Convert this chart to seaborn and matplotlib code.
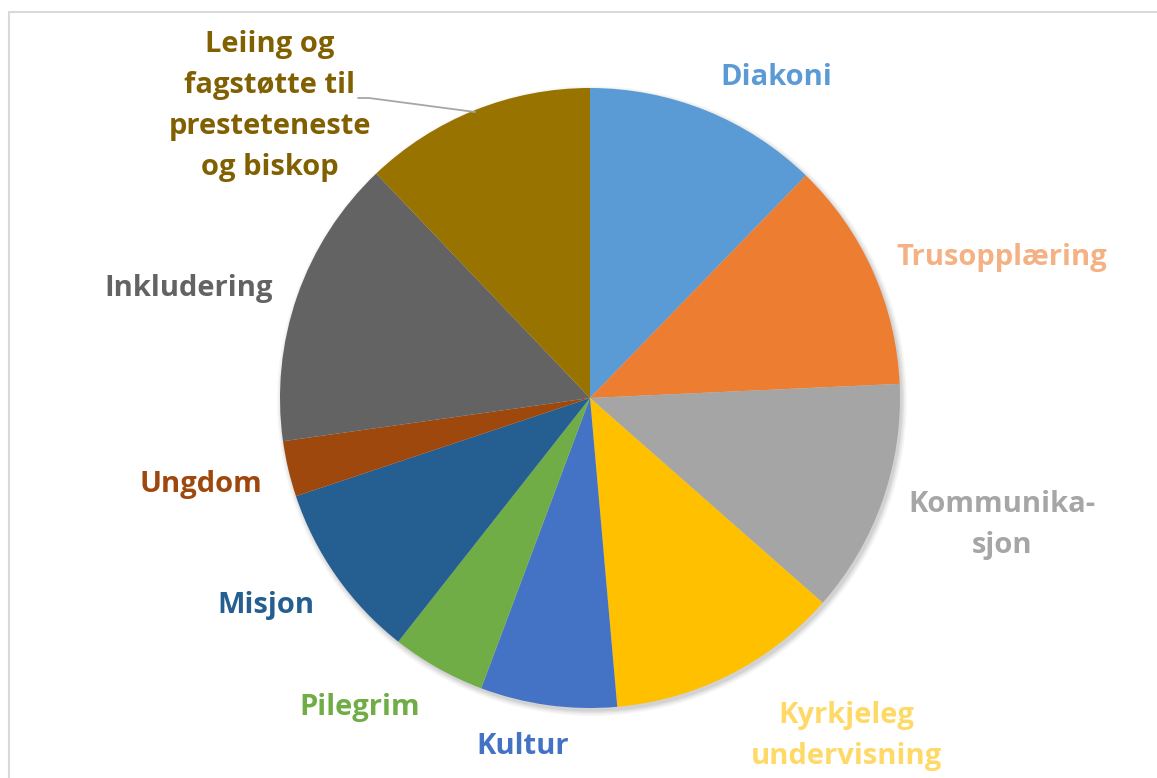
import matplotlib
matplotlib.use("Agg")
import matplotlib.pyplot as plt
from matplotlib.patches import Rectangle, Circle
import seaborn as sns

# ---- data ----
categories = ["Diakoni", "Trusopplæring", "Kommunikasjon", "Kyrkjeleg undervisning",
              "Kultur", "Pilegrim", "Misjon", "Ungdom", "Inkludering",
              "Leiing og fagstøtte til presteteneste og biskop"]
values = [12.25, 12.0, 12.2, 12.1, 7.1, 4.9, 9.25, 2.9, 15.1, 12.1]
label_texts = ["Diakoni", "Trusopplæring", "Kommunika-\nsjon", "Kyrkjeleg\nundervisning",
               "Kultur", "Pilegrim", "Misjon", "Ungdom", "Inkludering",
               "Leiing og\nfagstøtte til\npresteteneste\nog biskop"]
slice_colors = ["#5B9BD5", "#ED7D31", "#A5A5A5", "#FFC000", "#4472C4",
                "#70AD47", "#255E91", "#9E480E", "#636363", "#997300"]
label_colors = ["#5B9BD5", "#F4B183", "#A6A6A6", "#FFD966", "#4472C4",
                "#70AD47", "#255E91", "#9E480E", "#636363", "#806000"]

sns.set_theme(style="white")
plt.rcParams['font.family'] = ['Open Sans', 'DejaVu Sans']

W, H = 1157, 778
fig = plt.figure(figsize=(W / 100, H / 100), dpi=100)
ax = fig.add_axes([0, 0, 1, 1])

def Y(y):
    return H - y

cx, cy, r = 590, 398, 310

# frame
ax.add_patch(Rectangle((9, Y(900)), 1300, 900 - 12, fill=False,
                       edgecolor="#D9D9D9", linewidth=1.5, zorder=0))

# soft shadow behind the pie
for dr, a in [(5, 0.03), (3.5, 0.04), (2, 0.05), (0.5, 0.06)]:
    ax.add_patch(Circle((cx + 2, Y(cy) - 3), r + dr, facecolor="black",
                        edgecolor="none", alpha=a, zorder=0.5))

wedges, _ = ax.pie(values, colors=slice_colors, startangle=90, counterclock=False,
                   center=(cx, Y(cy)), radius=r, frame=True,
                   wedgeprops=dict(linewidth=0, zorder=1))
ax.set_xlim(0, W)
ax.set_ylim(0, H)
ax.set_aspect('equal')
ax.axis('off')

# label positions (centre of text block, pixel coords)
label_pos = [(776, 77), (1002, 257), (1002, 525), (846, 736), (523, 746),
             (360, 707), (266, 606), (201, 484), (189, 288), (270, 106)]
for txt, col, (x, y) in zip(label_texts, label_colors, label_pos):
    ax.text(x, Y(y), txt, color=col, fontsize=21, fontweight='bold',
            ha='center', va='center', linespacing=1.55, zorder=5)

# leader line for the last label
ax.plot([358, 369, 475], [Y(98), Y(98), Y(112)], color="#A6A6A6", linewidth=1.3, zorder=4)

fig.savefig("out.png", dpi=100)
